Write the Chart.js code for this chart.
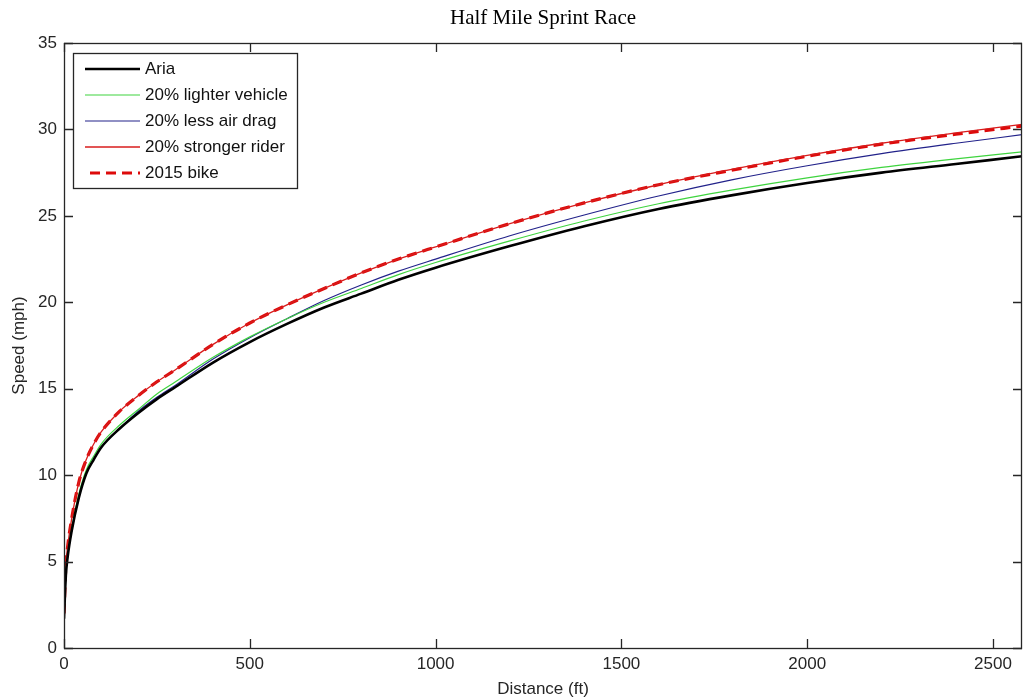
<!DOCTYPE html>
<html>
<head>
<meta charset="utf-8">
<script src="https://cdn.jsdelivr.net/npm/chart.js@4.4.0/dist/chart.umd.min.js"></script>
<style>
html,body{margin:0;padding:0;background:#fff;}
#wrap{width:1023px;height:700px;}
</style>
</head>
<body>
<div id="wrap"><canvas id="c" width="1023" height="700"></canvas></div>
<script>
const chartTitle = "Half Mile Sprint Race";
const xLabel = "Distance (ft)";
const yLabel = "Speed (mph)";
const seriesNames = ["Aria", "20% lighter vehicle", "20% less air drag", "20% stronger rider", "2015 bike"];
const xTicks = [0, 500, 1000, 1500, 2000, 2500];
const yTicks = [0, 5, 10, 15, 20, 25, 30, 35];

const dist      = [0, 5, 10, 20, 40, 60, 80, 100, 150, 200, 250, 300, 400, 500, 600, 700, 800, 900, 1000, 1200, 1400, 1600, 1800, 2000, 2200, 2400, 2580];
const aria      = [1.7, 4.2, 5.3, 6.7, 8.7, 10.1, 10.9, 11.6, 12.7, 13.6, 14.4, 15.1, 16.5, 17.7, 18.75, 19.7, 20.5, 21.3, 22.0, 23.25, 24.4, 25.4, 26.2, 26.9, 27.5, 28.0, 28.45];
const lighter   = [1.7, 4.3, 5.4, 6.8, 8.9, 10.3, 11.1, 11.8, 12.9, 13.8, 14.7, 15.4, 16.8, 18.0, 19.05, 20.0, 20.8, 21.6, 22.3, 23.55, 24.7, 25.7, 26.5, 27.2, 27.8, 28.3, 28.7];
const lessDrag  = [1.7, 4.2, 5.3, 6.7, 8.7, 10.1, 10.9, 11.6, 12.7, 13.7, 14.5, 15.2, 16.7, 17.95, 19.05, 20.1, 21.0, 21.8, 22.5, 23.85, 25.05, 26.15, 27.1, 27.9, 28.6, 29.2, 29.7];
const stronger  = [2.0, 4.8, 5.9, 7.4, 9.6, 10.9, 11.8, 12.5, 13.7, 14.6, 15.4, 16.1, 17.55, 18.8, 19.85, 20.8, 21.7, 22.5, 23.2, 24.55, 25.75, 26.8, 27.7, 28.5, 29.2, 29.8, 30.3];
const bike2015  = [2.0, 4.8, 5.9, 7.4, 9.6, 10.9, 11.8, 12.5, 13.7, 14.6, 15.4, 16.1, 17.55, 18.8, 19.85, 20.8, 21.7, 22.5, 23.2, 24.55, 25.75, 26.8, 27.65, 28.45, 29.15, 29.72, 30.2];

function pts(arr){ return dist.map((d,i)=>({x:d, y:arr[i]})); }

const styles = [
  {color:'#000000', width:2.6, dash:[]},
  {color:'#3fd43f', width:1.2, dash:[]},
  {color:'#22228a', width:1.2, dash:[]},
  {color:'#d81c1c', width:1.3, dash:[]},
  {color:'#dd0a0a', width:3.2, dash:[10,6]}
];
const values = [aria, lighter, lessDrag, stronger, bike2015];

const datasets = values.map((v,i)=>({
  label: seriesNames[i],
  data: pts(v),
  borderColor: styles[i].color,
  borderWidth: styles[i].width,
  borderDash: styles[i].dash,
  pointRadius: 0,
  fill: false,
  cubicInterpolationMode: 'monotone',
  tension: 0.4
}));

const tickFont = {family: '"Liberation Sans", Arial, sans-serif', size: 17};

const matlabAxes = {
  id: 'matlabAxes',
  afterDraw(chart){
    const ctx = chart.ctx;
    const a = chart.chartArea;
    const xs = chart.scales.x, ys = chart.scales.y;
    ctx.save();
    ctx.strokeStyle = '#262626';
    ctx.lineWidth = 1.3;
    ctx.strokeRect(a.left+0.5, a.top+0.5, a.right-a.left-1, a.bottom-a.top);
    const tl = 9;
    ctx.beginPath();
    xs.ticks.forEach(t=>{
      const px = Math.round(xs.getPixelForValue(t.value))+0.5;
      ctx.moveTo(px, a.bottom); ctx.lineTo(px, a.bottom - tl);
      ctx.moveTo(px, a.top); ctx.lineTo(px, a.top + tl);
    });
    ys.ticks.forEach(t=>{
      const py = Math.round(ys.getPixelForValue(t.value))+0.5;
      ctx.moveTo(a.left, py); ctx.lineTo(a.left + tl, py);
      ctx.moveTo(a.right, py); ctx.lineTo(a.right - tl, py);
    });
    ctx.stroke();

    // title
    ctx.fillStyle = '#000';
    ctx.font = '21px "Liberation Serif", "Times New Roman", serif';
    ctx.textAlign = 'center';
    ctx.textBaseline = 'alphabetic';
    ctx.fillText(chartTitle, (a.left + a.right)/2, 24);

    // axis labels
    ctx.fillStyle = '#262626';
    ctx.font = '17px "Liberation Sans", Arial, sans-serif';
    ctx.textBaseline = 'middle';
    ctx.fillText(xLabel, (a.left + a.right)/2, 689);
    ctx.save();
    ctx.translate(19, (a.top + a.bottom)/2);
    ctx.rotate(-Math.PI/2);
    ctx.fillText(yLabel, 0, 0);
    ctx.restore();

    // legend
    const lx = 73, ly = 53, lw = 224, lh = 135;
    ctx.fillStyle = '#fff';
    ctx.fillRect(lx, ly, lw, lh);
    ctx.strokeStyle = '#262626';
    ctx.lineWidth = 1.3;
    ctx.strokeRect(lx+0.5, ly+0.5, lw, lh);
    ctx.textAlign = 'left';
    ctx.font = '17px "Liberation Sans", Arial, sans-serif';
    chart.data.datasets.forEach((ds,i)=>{
      const y = 69 + i*26;
      ctx.beginPath();
      ctx.strokeStyle = ds.borderColor;
      ctx.lineWidth = ds.borderWidth;
      ctx.setLineDash(ds.borderDash || []);
      if (ds.borderDash && ds.borderDash.length) {
        ctx.moveTo(90, y); ctx.lineTo(140, y);
      } else {
        ctx.moveTo(85, y); ctx.lineTo(140, y);
      }
      ctx.stroke();
      ctx.setLineDash([]);
      ctx.fillStyle = '#111';
      ctx.fillText(ds.label, 145, y);
    });
    ctx.restore();
  }
};

new Chart(document.getElementById('c'), {
  type: 'line',
  data: {datasets},
  options: {
    responsive: false,
    animation: false,
    layout: {padding: {top: 43, right: 1, left: 0, bottom: 0}},
    plugins: {
      legend: {display: false},
      title: {display: false},
      tooltip: {enabled: false}
    },
    scales: {
      x: {
        type: 'linear',
        min: 0, max: 2578,
        afterFit(s){ s.height = 52; },
        grid: {display: false, drawTicks: false},
        border: {display: false},
        afterBuildTicks(s){ s.ticks = xTicks.map(v=>({value:v})); },
        ticks: {padding: 6, color: '#262626', font: tickFont, maxRotation: 0, autoSkip: false,
                callback: (v)=>String(v)}
      },
      y: {
        type: 'linear',
        min: 0, max: 35,
        afterFit(s){ s.width = 64; },
        grid: {display: false, drawTicks: false},
        border: {display: false},
        afterBuildTicks(s){ s.ticks = yTicks.map(v=>({value:v})); },
        ticks: {padding: 7, color: '#262626', font: tickFont, autoSkip: false,
                callback: (v)=>String(v)}
      }
    }
  },
  plugins: [matlabAxes]
});
</script>
</body>
</html>
